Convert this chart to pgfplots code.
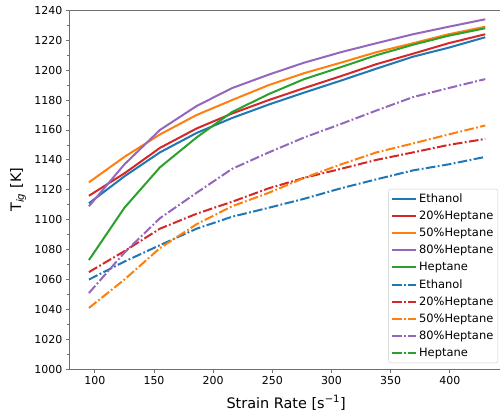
\documentclass[border=0pt]{standalone}
\usepackage{pgfplots}
\pgfplotsset{compat=1.18}
\usepackage{fontspec}
\setmainfont{DejaVu Sans}
\definecolor{cA}{HTML}{1F77B4}
\definecolor{cB}{HTML}{FF7F0E}
\definecolor{cC}{HTML}{2CA02C}
\definecolor{cD}{HTML}{D62728}
\definecolor{cE}{HTML}{9467BD}
\definecolor{spine}{HTML}{707070}
\tikzset{
  sl/.style={line width=2bp, line cap=butt, solid},
  dd/.style={line width=2bp, line cap=butt, dash pattern=on 9.6bp off 2.4bp on 1.8bp off 2.4bp},
}
\begin{document}
\begin{tikzpicture}[x=1bp,y=1bp]
\begin{axis}[
  at={(69.3bp,43.7bp)}, anchor=south west,
  scale only axis, width=433.7bp, height=359bp,
  xmin=78.4, xmax=445, ymin=1000, ymax=1240,
  xtick={100,150,...,400}, ytick={1000,1020,...,1240},
  minor y tick num=1,
  xtick pos=bottom, ytick pos=left,
  tick align=outside,
  major tick length=3.5bp, minor tick length=2bp,
  every tick/.style={spine, line width=0.8bp},
  axis line style={spine, line width=1bp},
  /pgf/number format/assume math mode=true,
  /pgf/number format/1000 sep={},
  ticklabel style={font=\fontsize{11}{13}\selectfont},
  xlabel={Strain Rate [s\textsuperscript{−1}]},
  ylabel={T\textsubscript{\itshape ig} [K]},
  every axis x label/.style={at={(axis description cs:0.5,-0.093)}, anchor=center, font=\fontsize{14.5}{16}\selectfont},
  every axis y label/.style={at={(axis description cs:-0.118,0.5)}, anchor=center, rotate=90, font=\fontsize{14.5}{16}\selectfont},
  legend style={at={(0.9885,0.0175)}, anchor=south east, draw=black!20, rounded corners=2bp,
    fill=white, fill opacity=0.8, text opacity=1,
    font=\fontsize{11.5}{13}\selectfont, row sep=3.2bp, inner sep=2.5bp},
  legend cell align=left,
  legend image code/.code={\draw[#1] (0bp,0bp) -- (24bp,0bp);},
]
\addplot[cA, sl, mark=none] coordinates {(95,1111)(125,1129)(155,1145)(186,1158)(216,1168)(247,1177)(277,1185)(308,1193)(338,1201)(369,1209)(399,1215)(430,1222)};
\addlegendentry{Ethanol}
\addplot[cD, sl, mark=none] coordinates {(95,1116)(125,1131)(155,1148)(186,1161)(216,1171)(247,1180)(277,1188)(308,1196)(338,1204)(369,1211)(399,1218)(430,1224)};
\addlegendentry{20\%Heptane}
\addplot[cB, sl, mark=none] coordinates {(95,1125)(125,1142)(155,1157)(186,1170)(216,1180)(247,1190)(277,1198)(308,1205)(338,1212)(369,1218)(399,1224)(430,1229)};
\addlegendentry{50\%Heptane}
\addplot[cE, sl, mark=none] coordinates {(95,1109)(125,1137)(155,1160)(186,1176)(216,1188)(247,1197)(277,1205)(308,1212)(338,1218)(369,1224)(399,1229)(430,1234)};
\addlegendentry{80\%Heptane}
\addplot[cC, sl, mark=none] coordinates {(95,1073)(125,1108)(155,1135)(186,1155)(216,1172)(247,1184)(277,1194)(308,1202)(338,1210)(369,1217)(399,1223)(430,1228)};
\addlegendentry{Heptane}
\addplot[cA, dd, mark=none] coordinates {(95,1060)(125,1072)(155,1083)(186,1094)(216,1102)(247,1108)(277,1114)(308,1121)(338,1127)(369,1133)(399,1137)(430,1142)};
\addlegendentry{Ethanol}
\addplot[cD, dd, mark=none] coordinates {(95,1065)(125,1079)(155,1094)(186,1104)(216,1112)(247,1121)(277,1128)(308,1134)(338,1140)(369,1145)(399,1150)(430,1154)};
\addlegendentry{20\%Heptane}
\addplot[cB, dd, mark=none] coordinates {(95,1041)(125,1060)(155,1081)(186,1097)(216,1109)(247,1118)(277,1128)(308,1137)(338,1145)(369,1151)(399,1157)(430,1163)};
\addlegendentry{50\%Heptane}
\addplot[cE, dd, mark=none] coordinates {(95,1051)(125,1078)(155,1101)(186,1118)(216,1134)(247,1145)(277,1155)(308,1164)(338,1173)(369,1182)(399,1188)(430,1194)};
\addlegendentry{80\%Heptane}
\addlegendimage{cC, dd}
\addlegendentry{Heptane}
\end{axis}
\pgfresetboundingbox
\path[use as bounding box] (0,0) rectangle (500bp,413bp);
\end{tikzpicture}
\end{document}
